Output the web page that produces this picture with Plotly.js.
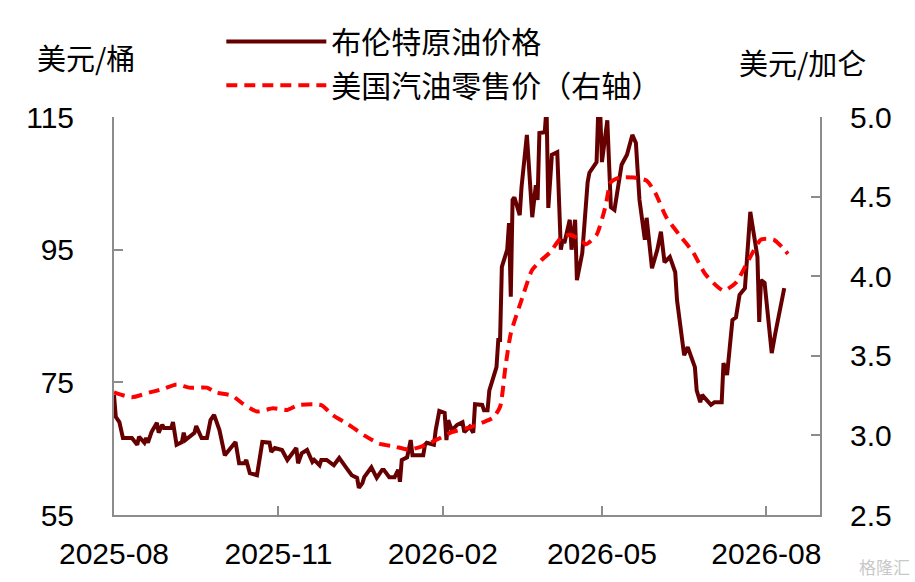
<!DOCTYPE html>
<html>
<head>
<meta charset="utf-8">
<script src="https://cdn.plot.ly/plotly-3.0.1.min.js"></script>
<style>
  html, body { margin: 0; padding: 0; background: #fff; }
  #chart { width: 915px; height: 582px; }
</style>
</head>
<body>
<div id="chart"></div>
<script>
// 布伦特原油价格 (美元/桶), 日度
var brentDates = [
  '2025-08-01','2025-08-02','2025-08-04','2025-08-06','2025-08-11','2025-08-14','2025-08-15','2025-08-18','2025-08-19','2025-08-20',
  '2025-08-22','2025-08-25','2025-08-26','2025-08-28','2025-08-29','2025-09-02','2025-09-03','2025-09-05','2025-09-08','2025-09-09',
  '2025-09-10','2025-09-15','2025-09-16','2025-09-19','2025-09-22','2025-09-24','2025-09-26','2025-09-29','2025-10-02','2025-10-06',
  '2025-10-08','2025-10-10','2025-10-13','2025-10-14','2025-10-16','2025-10-20','2025-10-23','2025-10-27','2025-10-28','2025-10-30',
  '2025-11-03','2025-11-06','2025-11-07','2025-11-11','2025-11-12','2025-11-14','2025-11-17','2025-11-20','2025-11-21','2025-11-24',
  '2025-11-25','2025-11-28','2025-12-02','2025-12-05','2025-12-09','2025-12-12','2025-12-15','2025-12-16','2025-12-18','2025-12-19',
  '2025-12-23','2025-12-26','2025-12-29','2025-12-30','2026-01-02','2026-01-05','2026-01-07','2026-01-08','2026-01-09','2026-01-12',
  '2026-01-14','2026-01-15','2026-01-19','2026-01-21','2026-01-22','2026-01-23','2026-01-27','2026-01-28','2026-01-30','2026-02-02',
  '2026-02-03','2026-02-04','2026-02-06','2026-02-09','2026-02-12','2026-02-13','2026-02-16','2026-02-18','2026-02-19','2026-02-23',
  '2026-02-24','2026-02-26','2026-02-27','2026-03-03','2026-03-04','2026-03-05','2026-03-06','2026-03-09','2026-03-10','2026-03-11',
  '2026-03-12','2026-03-13','2026-03-16','2026-03-17','2026-03-20','2026-03-23','2026-03-25','2026-03-26','2026-03-27','2026-03-30',
  '2026-03-31','2026-04-01','2026-04-03','2026-04-06','2026-04-08','2026-04-09','2026-04-10','2026-04-13','2026-04-14','2026-04-16',
  '2026-04-17','2026-04-20','2026-04-23','2026-04-24','2026-04-28','2026-04-29','2026-04-30','2026-05-01','2026-05-04','2026-05-06',
  '2026-05-08','2026-05-12','2026-05-15','2026-05-18','2026-05-20','2026-05-22','2026-05-25','2026-05-26','2026-05-29','2026-06-01',
  '2026-06-03','2026-06-05','2026-06-08','2026-06-09','2026-06-11','2026-06-12','2026-06-16','2026-06-18','2026-06-22','2026-06-23',
  '2026-06-25','2026-06-26','2026-07-01','2026-07-03','2026-07-07','2026-07-08','2026-07-10','2026-07-13','2026-07-15','2026-07-17',
  '2026-07-20','2026-07-23','2026-07-27','2026-07-28','2026-07-29','2026-07-31','2026-08-04','2026-08-06','2026-08-11'
];
var brentPrices = [
  73.1, 69.8, 69.0, 66.6, 66.6, 65.6, 66.8, 65.9, 66.6, 65.9,
  67.5, 68.9, 67.4, 68.6, 68.1, 68.1, 69.0, 65.6, 66.0, 67.4,
  66.3, 67.4, 68.4, 66.6, 66.6, 69.3, 70.1, 67.8, 64.0, 65.2,
  66.0, 62.8, 62.8, 63.3, 61.3, 61.0, 66.0, 65.9, 64.5, 65.1,
  64.8, 63.3, 63.7, 65.1, 62.8, 64.3, 64.8, 63.0, 63.3, 62.5,
  63.3, 63.3, 62.5, 63.6, 62.1, 61.0, 60.6, 59.1, 59.8, 60.7,
  62.2, 60.6, 61.8, 61.8, 60.7, 60.7, 61.8, 60.0, 63.3, 63.7,
  66.3, 64.0, 64.0, 64.0, 65.6, 65.9, 65.6, 67.8, 70.7, 70.4,
  66.3, 69.3, 67.8, 68.6, 69.0, 67.5, 68.3, 67.4, 71.7, 71.6,
  70.8, 70.8, 73.8, 77.3, 81.4, 81.4, 92.4, 95.0, 99.0, 87.9,
  102.5, 102.9, 100.2, 104.4, 112.3, 99.9, 104.7, 102.5, 112.6, 112.7,
  116.5, 101.3, 109.3, 109.7, 95.0, 96.5, 96.0, 99.5, 95.0, 99.5,
  90.4, 94.5, 105.2, 106.6, 108.2, 116.5, 116.0, 108.2, 114.5, 101.4,
  101.0, 107.8, 109.3, 112.3, 111.1, 102.5, 96.5, 99.8, 92.2, 95.0,
  97.7, 93.1, 93.9, 93.0, 91.6, 87.4, 79.1, 80.3, 77.3, 73.8,
  72.0, 73.1, 71.6, 72.0, 72.0, 77.9, 76.1, 84.4, 84.8, 88.2,
  89.2, 100.7, 93.9, 84.1, 90.4, 90.0, 79.4, 82.4, 89.2
];

// 美国汽油零售价 (美元/加仑, 右轴), 周度
var gasDates = [
  '2025-08-01','2025-08-11','2025-08-21','2025-08-28','2025-09-05','2025-09-12','2025-09-22','2025-09-27','2025-10-06','2025-10-12',
  '2025-10-20','2025-10-29','2025-11-06','2025-11-12','2025-11-25','2025-12-01','2025-12-10','2025-12-19','2025-12-27','2026-01-05',
  '2026-01-13','2026-01-20','2026-01-28','2026-02-06','2026-02-16','2026-02-23','2026-03-01','2026-03-05','2026-03-08','2026-03-11',
  '2026-03-17','2026-03-23','2026-03-28','2026-04-02','2026-04-08','2026-04-13','2026-04-19','2026-04-22','2026-04-28','2026-05-03',
  '2026-05-06','2026-05-11','2026-05-19','2026-05-26','2026-05-31','2026-06-06','2026-06-14','2026-06-21','2026-06-28','2026-07-08',
  '2026-07-15','2026-07-22','2026-07-29','2026-08-05','2026-08-10','2026-08-13'
];
var gasPrices = [
  3.27, 3.24, 3.27, 3.29, 3.32, 3.30, 3.30, 3.27, 3.25, 3.20,
  3.15, 3.17, 3.16, 3.19, 3.19, 3.13, 3.07, 3.00, 2.95, 2.93,
  2.91, 2.93, 2.97, 3.02, 3.05, 3.08, 3.11, 3.18, 3.43, 3.64,
  3.85, 4.04, 4.10, 4.15, 4.24, 4.26, 4.23, 4.20, 4.26, 4.44,
  4.59, 4.62, 4.62, 4.60, 4.52, 4.37, 4.25, 4.15, 4.01, 3.91,
  3.96, 4.10, 4.23, 4.23, 4.18, 4.14
];

// 坐标轴刻度
var xTickVals = ['2025-08-01', '2025-11-01', '2026-02-01', '2026-05-01', '2026-08-01'];
var xTickText = ['2025-08', '2025-11', '2026-02', '2026-05', '2026-08'];
var leftTicks = [55, 75, 95, 115];
var rightTicks = [2.5, 3.0, 3.5, 4.0, 4.5, 5.0];

var numFont = 'Liberation Sans, Arial, Noto Sans CJK SC, sans-serif';
var cjkFont = 'Noto Sans CJK SC, Liberation Sans, sans-serif';
var axisGray = '#8c8c8c';

var traceBrent = {
  x: brentDates,
  y: brentPrices,
  name: '布伦特原油价格',
  type: 'scatter',
  mode: 'lines',
  line: { color: '#660000', width: 4 },
  legend: 'legend'
};

var traceGas = {
  x: gasDates,
  y: gasPrices,
  name: '美国汽油零售价（右轴）',
  type: 'scatter',
  mode: 'lines',
  yaxis: 'y2',
  line: { color: '#ff0000', width: 4, dash: '11px,7px', shape: 'spline', smoothing: 0.6 },
  legend: 'legend2'
};

var layout = {
  width: 915,
  height: 582,
  margin: { l: 114, r: 95, t: 117, b: 67, autoexpand: false },
  paper_bgcolor: '#ffffff',
  plot_bgcolor: '#ffffff',
  showlegend: true,
  font: { family: numFont, size: 30, color: '#000000' },
  xaxis: {
    type: 'date',
    range: ['2025-08-01', '2026-08-31'],
    tickvals: xTickVals,
    ticktext: xTickText,
    ticks: 'inside',
    ticklen: 9,
    tickwidth: 2,
    tickcolor: axisGray,
    showline: true,
    linecolor: axisGray,
    linewidth: 2,
    showgrid: false,
    zeroline: false,
    ticklabelstandoff: 11,
    tickfont: { family: numFont, size: 30, color: '#000' }
  },
  yaxis: {
    range: [55, 115],
    tickvals: leftTicks,
    ticks: 'inside',
    ticklen: 9,
    tickwidth: 2,
    tickcolor: axisGray,
    showline: true,
    linecolor: axisGray,
    linewidth: 2,
    showgrid: false,
    zeroline: false,
    ticklabelstandoff: 32,
    tickfont: { family: numFont, size: 30, color: '#000' }
  },
  yaxis2: {
    overlaying: 'y',
    side: 'right',
    range: [2.5, 5.0],
    tickvals: rightTicks,
    tickformat: '.1f',
    ticks: 'inside',
    ticklen: 9,
    tickwidth: 2,
    tickcolor: axisGray,
    showline: true,
    linecolor: axisGray,
    linewidth: 2,
    showgrid: false,
    zeroline: false,
    ticklabelstandoff: 22,
    tickfont: { family: numFont, size: 30, color: '#000' }
  },
  legend: {
    x: 0.152, y: 1.19, xanchor: 'left', yanchor: 'middle',
    itemwidth: 100,
    bgcolor: 'rgba(0,0,0,0)',
    font: { family: cjkFont, size: 30, color: '#000' }
  },
  legend2: {
    x: 0.152, y: 1.08, xanchor: 'left', yanchor: 'middle',
    itemwidth: 100,
    bgcolor: 'rgba(0,0,0,0)',
    font: { family: cjkFont, size: 30, color: '#000' }
  },
  annotations: [
    { text: '美元/桶', xref: 'paper', yref: 'paper', x: -0.04, y: 1.15, xanchor: 'center', yanchor: 'middle',
      showarrow: false, font: { family: cjkFont, size: 29, color: '#000' } },
    { text: '美元/加仑', xref: 'paper', yref: 'paper', x: 0.975, y: 1.137, xanchor: 'center', yanchor: 'middle',
      showarrow: false, font: { family: cjkFont, size: 29, color: '#000' } },
    { text: '格隆汇', xref: 'paper', yref: 'paper', x: 1.13, y: -0.13, xanchor: 'right', yanchor: 'middle',
      showarrow: false, font: { family: cjkFont, size: 17, color: '#c8c8c8' } }
  ]
};

var config = { displayModeBar: false, staticPlot: true };

Plotly.newPlot('chart', [traceBrent, traceGas], layout, config);
</script>
</body>
</html>
